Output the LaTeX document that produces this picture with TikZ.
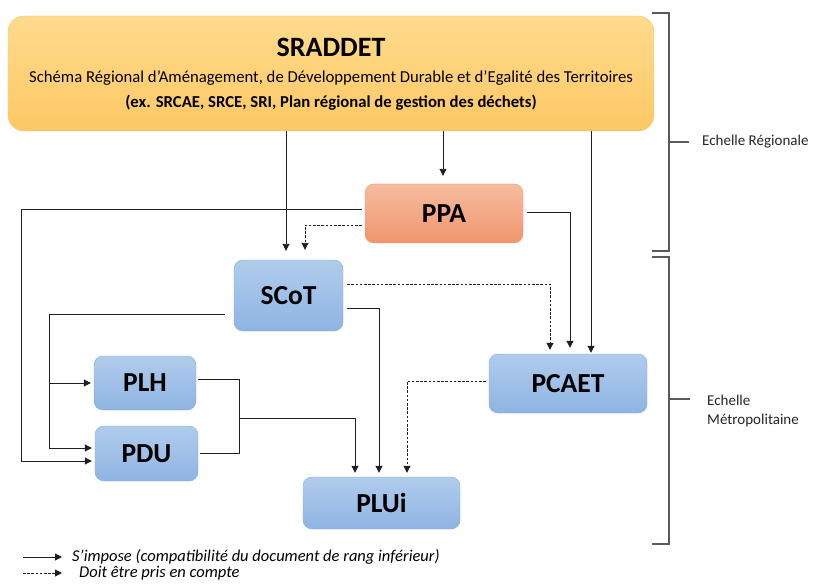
\documentclass[tikz,border=0pt]{standalone}
\usepackage{fontspec}
\setmainfont{Carlito}
\usetikzlibrary{arrows.meta,calc}
\definecolor{blueT}{HTML}{B0CCEC}
\definecolor{blueB}{HTML}{8EB4E3}
\definecolor{blueD}{HTML}{86A9D6}
\definecolor{orT}{HTML}{F7BCA0}
\definecolor{orB}{HTML}{F0956C}
\definecolor{orD}{HTML}{E99B78}
\definecolor{yeT}{HTML}{FFDB8E}
\definecolor{yeB}{HTML}{FDC863}
\definecolor{yeD}{HTML}{F6C66A}
\definecolor{lineC}{HTML}{202020}
\definecolor{brC}{HTML}{5A5A5A}
\tikzset{
  boxbase/.style={rectangle, rounded corners=9pt, inner sep=0pt, font=\bfseries\fontsize{27.5}{30}\selectfont},
  bluebox/.style={boxbase, draw=blueD, top color=blueT, bottom color=blueB},
  orbox/.style={boxbase, draw=orD, top color=orT, bottom color=orB},
  yebox/.style={rectangle, rounded corners=16pt, inner sep=0pt, draw=yeD, top color=yeT, bottom color=yeB},
  conn/.style={draw=lineC, line width=0.95pt},
  arr/.style={conn, -{Triangle[length=7pt,width=7pt]}},
  darr/.style={arr, dash pattern=on 2.6pt off 1.6pt},
  brk/.style={draw=brC, line width=1.1pt},
  lbl/.style={font=\fontsize{15}{19}\selectfont, anchor=west, inner sep=0pt, align=left, text=black!85},
  leg/.style={font=\itshape\fontsize{16.5}{19}\selectfont, anchor=west, inner sep=0pt, text=black}
}
\begin{document}
\begin{tikzpicture}[x=1pt,y=-1pt]
\useasboundingbox (0,0) rectangle (813,585);
\fill[white] (0,0) rectangle (813,585);
% boxes
\node[yebox, minimum width=646pt, minimum height=115pt] (sraddet) at (331,73.5) {};
\node[font=\bfseries\fontsize{28}{30}\selectfont, inner sep=0pt] (t1) at (331,47) {SRADDET};
\node[font=\fontsize{16.7}{19}\selectfont, inner sep=0pt] (t2) at (331,78) {Schéma Régional d’Aménagement, de Développement Durable et d’Egalité des Territoires};
\node[font=\bfseries\fontsize{16.7}{19}\selectfont, inner sep=0pt] (t3) at (331,103) {(ex. SRCAE, SRCE, SRI, Plan régional de gestion des déchets)};
\node[orbox, minimum width=158pt, minimum height=59pt] (ppa) at (444,213.5) {PPA};
\node[bluebox, minimum width=109pt, minimum height=71pt] (scot) at (288.5,295.5) {SCoT};
\node[bluebox, minimum width=102pt, minimum height=54pt] (plh) at (145,383) {PLH};
\node[bluebox, minimum width=103pt, minimum height=55pt] (pdu) at (146.5,453.5) {PDU};
\node[bluebox, minimum width=157pt, minimum height=52pt] (plui) at (381.5,503) {PLUi};
\node[bluebox, minimum width=158pt, minimum height=59pt] (pcaet) at (568,383.5) {PCAET};
% connectors
\draw[arr, shorten >=9pt] ([xshift=-2.5pt]scot.north |- sraddet.south) -- ([xshift=-2.5pt]scot.north);
\draw[arr, shorten >=8pt] ([xshift=-1pt]ppa.north |- sraddet.south) -- ([xshift=-1pt]ppa.north);
\draw[arr, shorten >=1pt] ([xshift=23pt]pcaet.north |- sraddet.south) -- ([xshift=23pt]pcaet.north);
\draw[arr, shorten <=3pt, shorten >=3pt] ([yshift=4.5pt]ppa.west) -- ++(-343,0) |- ([yshift=-7.5pt]pdu.west);
\draw[darr, shorten <=3pt, shorten >=10pt] ([yshift=-11.5pt]ppa.west) -| ([xshift=16.5pt]scot.north);
\draw[arr, shorten <=9pt, shorten >=3pt] ([yshift=-18.5pt]scot.west) -- ++(-184,0) coordinate (sj) |- ([yshift=5.5pt]pdu.west);
\draw[arr, shorten >=3pt] (sj |- plh.west) -- (plh.west);
\draw[conn] ([yshift=4pt,xshift=2pt]plh.east) -| ([xshift=41pt]pdu.east) -- ([xshift=2pt]pdu.east);
\draw[arr, shorten >=4pt] ([xshift=41pt,yshift=35.5pt]pdu.east) -| ([xshift=-26.5pt]plui.north);
\draw[arr, shorten <=4pt, shorten >=4pt] ([yshift=-12.5pt]scot.east) -| ([xshift=-2.5pt]plui.north);
\draw[darr, shorten <=4pt, shorten >=4pt] ([yshift=11.5pt]scot.east) -| ([xshift=-18pt]pcaet.north);
\draw[arr, shorten <=4pt, shorten >=6pt] ([yshift=1.5pt]ppa.east) -| ([xshift=2pt]pcaet.north);
\draw[darr, shorten <=3pt, shorten >=4pt] ([yshift=2.5pt]pcaet.west) -| ([xshift=25.5pt]plui.north);
% brackets
\coordinate (rb1) at (652,13);
\coordinate (rb2) at (652,251);
\coordinate (rt) at (669,142);
\draw[brk] (rb1) -- (rb1 -| rt) -- (rb2 -| rt) -- (rb2);
\draw[brk] (rt) -- ++(20,0);
\node[lbl] (reg) at (702,142) {Echelle Régionale};
\coordinate (mb1) at (652,257);
\coordinate (mb2) at (652,544);
\coordinate (mt) at (669,399);
\draw[brk] (mb1) -- (mb1 -| mt) -- (mb2 -| mt) -- (mb2);
\draw[brk] (mt) -- ++(21,0);
\node[lbl] (met) at (707,411) {Echelle\\Métropolitaine};
% legend
\coordinate (l1a) at (23,557);
\coordinate (l1b) at (62,557);
\coordinate (l2a) at (23,573);
\coordinate (l2b) at (62,573);
\draw[arr] (l1a) -- (l1b);
\draw[darr] (l2a) -- (l2b);
\node[leg] (lt1) at (72,557) {S’impose (compatibilité du document de rang inférieur)};
\node[leg] (lt2) at (79,573) {Doit être pris en compte};
\end{tikzpicture}
\end{document}
